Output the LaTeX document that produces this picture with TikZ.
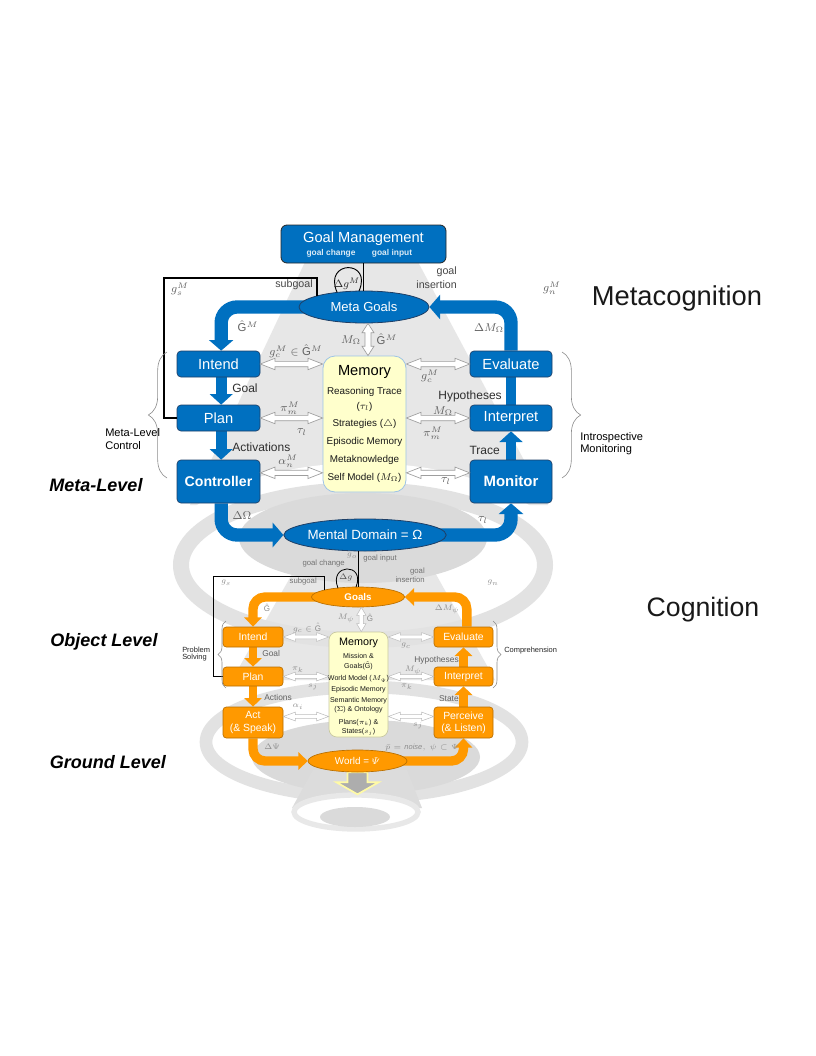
\RequirePackage{fix-cm}
\documentclass[tikz,border=0pt]{standalone}
\usepackage{fontspec}
\setmainfont{Liberation Sans}
\usetikzlibrary{arrows.meta,calc,decorations.pathreplacing,shapes.geometric}
\pgfdeclarelayer{bgzero}
\pgfdeclarelayer{bgone}
\pgfsetlayers{bgzero,bgone,main}
\definecolor{blueM}{HTML}{0070C0}
\definecolor{blueD}{HTML}{1F3F66}
\definecolor{orgM}{HTML}{FF9900}
\definecolor{orgD}{HTML}{B86E00}
\definecolor{memY}{HTML}{FFFFCC}
\definecolor{memB}{HTML}{9DC3E6}
\definecolor{memO}{HTML}{C8C8A0}
\definecolor{bgA}{HTML}{E7E7E7}
\definecolor{bgR}{HTML}{E2E2E2}
\definecolor{bgI}{HTML}{DADADA}
\newcommand{\fsz}[1]{\fontsize{#1}{#1}\selectfont}
\newcommand{\dblH}[6]{%
 \path[#1] let \p1=(#2), \p2=(#3) in
  (\x1,\y1) -- (\x1+#4,\y1+#5) -- (\x1+#4,\y1+#6) -- (\x2-#4,\y1+#6) -- (\x2-#4,\y1+#5) -- (\x2,\y1) -- (\x2-#4,\y1-#5) -- (\x2-#4,\y1-#6) -- (\x1+#4,\y1-#6) -- (\x1+#4,\y1-#5) -- cycle;}
\newcommand{\dblV}[6]{%
 \path[#1] let \p1=(#2), \p2=(#3) in
  (\x1,\y1) -- (\x1+#5,\y1-#4) -- (\x1+#6,\y1-#4) -- (\x1+#6,\y2+#4) -- (\x1+#5,\y2+#4) -- (\x1,\y2) -- (\x1-#5,\y2+#4) -- (\x1-#6,\y2+#4) -- (\x1-#6,\y1-#4) -- (\x1-#5,\y1-#4) -- cycle;}
\begin{document}
\begin{tikzpicture}[x=0.75pt,y=-0.75pt,
 mbox/.style={rectangle, rounded corners=3pt, fill=blueM, draw=blueD, line width=0.5pt, text=white, inner sep=0pt, font=\fsz{11}, minimum width=62.25pt, minimum height=19.5pt},
 mboxb/.style={mbox, minimum height=32.25pt, font=\bfseries\fsz{10.6}},
 obox/.style={rectangle, rounded corners=2.5pt, fill=orgM, draw=orgD, line width=0.5pt, text=white, inner sep=0pt, font=\fontsize{7.8}{9.2}\selectfont, align=center, minimum width=45pt, minimum height=15pt},
 mell/.style={ellipse, fill=blueM, draw=blueD, line width=0.6pt, text=white, inner sep=0pt},
 oell/.style={ellipse, fill=orgM, draw=orgD, line width=0.5pt, text=white, inner sep=0pt},
 bigB/.style={draw=blueM, line width=10pt, rounded corners=12pt, -{Triangle[width=18pt,length=8pt]}},
 smallB/.style={draw=blueM, line width=8pt, -{Triangle[width=17pt,length=8pt]}},
 bigO/.style={draw=orgM, line width=7pt, rounded corners=9pt, -{Triangle[width=13pt,length=7pt]}},
 smallO/.style={draw=orgM, line width=6.5pt, -{Triangle[width=13pt,length=6.5pt]}},
 dblM/.style={draw=black!38, fill=white, line width=0.5pt},
 dblO/.style={draw=black!26, fill=white, line width=0.4pt},
 brc/.style={draw=black!45, line width=0.45pt, decorate},
 lblM/.style={font=\fsz{8}, text=black!72, inner sep=0pt},
 albl/.style={font=\fsz{9}, text=black!82, inner sep=0pt},
 mathM/.style={font=\fsz{8.5}, text=black!62, inner sep=0pt},
 mathO/.style={font=\fsz{6}, text=black!45, inner sep=0pt},
 lblO/.style={font=\fsz{6.3}, text=black!62, inner sep=0pt},
 lblOs/.style={font=\fsz{5.8}, text=black!55, inner sep=0pt},
 side/.style={font=\fsz{8.3}, text=black, inner sep=0pt, anchor=west},
 sideO/.style={font=\fsz{5.6}, text=black!85, inner sep=0pt, anchor=west},
 lvl/.style={font=\bfseries\itshape\fsz{13.5}, text=black, inner sep=0pt},
 big/.style={font=\fsz{20.5}, text=black!90, inner sep=0pt},
 memt/.style={font=\fsz{7.4}, text=black!90, inner sep=0pt},
 memo/.style={font=\fsz{5.3}, text=black!90, inner sep=0pt}
]
\useasboundingbox (0,0) rectangle (816,1056);

% ---------------- meta level nodes
\node[rectangle, rounded corners=4.5pt, fill=blueM, draw=black!85, line width=0.6pt, minimum width=123.75pt, minimum height=28.5pt, inner sep=0pt] (gm) at (363.5,244) {};
\node[font=\fsz{11}, text=white, inner sep=0pt] (gmt) at (363.5,239) {Goal Management};
\node[font=\bfseries\fsz{6.3}, text=white!85!blueM, inner sep=0pt] (gmc) at (331,253) {goal change};
\node[font=\bfseries\fsz{6.3}, text=white!85!blueM, inner sep=0pt] (gmi) at (392,253) {goal input};

\node[mell, minimum width=97.5pt, minimum height=24pt, font=\fsz{9.8}] (metagoals) at (364,307) {Meta Goals};

\node[mbox] (intend) at (218.5,364) {Intend};
\node[mbox] (plan) at (218.5,418) {Plan};
\node[mboxb] (controller) at (218.5,481.5) {Controller};
\node[mbox, minimum width=61.5pt] (evaluate) at (511,364) {Evaluate};
\node[mbox, minimum width=61.5pt] (interpret) at (511,418) {Interpret};
\node[mboxb, minimum width=61.5pt, font=\bfseries\fsz{11.2}] (monitor) at (511,481.5) {Monitor};

\node[rectangle, rounded corners=9pt, fill=memY, draw=memB, line width=0.6pt, minimum width=62.25pt, minimum height=102pt, inner sep=0pt] (mem) at (364.5,424) {};
\node[font=\fsz{11}, inner sep=0pt] (memt0) at (364.5,372) {Memory};
\node[memt] (memt1) at (364.5,392) {Reasoning Trace};
\node[memt] (memt2) at (364.5,406.5) {($\tau_l$)};
\node[memt] (memt3) at (364.5,424) {Strategies ($\triangle$)};
\node[memt] (memt4) at (364.5,442) {Episodic Memory};
\node[memt] (memt5) at (364.5,460) {Metaknowledge};
\node[memt] (memt6) at (364.5,478) {Self Model ($M_\Omega$)};

\node[mell, minimum width=100.5pt, minimum height=24pt, font=\fsz{10}] (mental) at (365,535) {Mental Domain = Ω};

% ---------------- object level nodes
\node[oell, minimum width=69.75pt, minimum height=15pt, font=\bfseries\fsz{7.3}] (goals) at (358,597) {Goals};
\node[obox] (intendo) at (253,637) {Intend};
\node[obox, minimum height=14.25pt] (plano) at (253,676.5) {Plan};
\node[obox, minimum height=23.25pt] (acto) at (253,722.5) {Act\\(\& Speak)};
\node[obox, minimum width=44.25pt] (evaluateo) at (463.5,637) {Evaluate};
\node[obox, minimum width=44.25pt, minimum height=14.25pt] (interpreto) at (463.5,676.5) {Interpret};
\node[obox, minimum width=44.25pt, minimum height=23.25pt] (perceiveo) at (463.5,722.5) {Perceive\\(\& Listen)};

\node[rectangle, rounded corners=6pt, fill=memY, draw=memO, line width=0.5pt, minimum width=44.25pt, minimum height=78.75pt, inner sep=0pt] (memo) at (358.5,684.5) {};
\node[font=\fsz{8.1}, inner sep=0pt] (memo0) at (358.5,643) {Memory};
\node[memo] (memo1) at (358.5,656) {Mission \&};
\node[memo] (memo2) at (358.5,666) {Goals($\hat{\mathrm{G}}$)};
\node[memo] (memo3) at (358.5,679) {World Model ($M_\Psi$)};
\node[memo] (memo4) at (358.5,690) {Episodic Memory};
\node[memo] (memo5) at (358.5,701) {Semantic Memory};
\node[memo] (memo6) at (358.5,710) {($\Sigma$) \& Ontology};
\node[memo] (memo7) at (358.5,722.5) {Plans($\pi_k$) \&};
\node[memo] (memo8) at (358.5,732) {States($s_j$)};

\node[oell, minimum width=74.25pt, minimum height=16.5pt, font=\fsz{7.4}] (world) at (357.5,761) {World = $\mathnormal{\Psi}$};

% ---------------- background
\begin{pgfonlayer}{bgzero}
\fill[white] (0,0) rectangle (816,1056);
\fill[bgA] (305,262) -- (418,262) -- (548,505) -- (190,505) -- cycle;
\fill[white] (363,565) ellipse [x radius=153.75pt, y radius=76.5pt];
\fill[bgA] (300,560) -- (428,560) -- (495,680) -- (232,680) -- cycle;
\fill[white] (364,742) ellipse [x radius=118.5pt, y radius=41.25pt];
\draw[bgR, line width=12pt] (363,565) ellipse [x radius=136.5pt, y radius=56.25pt];
\draw[bgR, line width=9.5pt] (364,742) ellipse [x radius=118.5pt, y radius=41.25pt];
\fill[bgI] (363,538) ellipse [x radius=93pt, y radius=33.75pt];
\fill[bgI] (366,757) ellipse [x radius=85.5pt, y radius=27.75pt];
\fill[bgA!95!black] (313,770) -- (407,770) -- (422,808) -- (292,808) -- cycle;
\fill[white] (356,812) ellipse [x radius=46.5pt, y radius=12.75pt];
\draw[bgR!80!white, line width=4pt] (356,812) ellipse [x radius=46.5pt, y radius=12.75pt];
\fill[bgI] (355,817) ellipse [x radius=26.25pt, y radius=7.5pt];
\end{pgfonlayer}

% ---------------- thick arrows
\begin{pgfonlayer}{bgone}
\draw[bigB] (metagoals.center) -| ([xshift=2pt]intend.north);
\draw[bigB] (evaluate.north) |- (metagoals.east);
\draw[bigB] ([xshift=2pt]controller.south) |- (mental.west);
\draw[bigB] (mental.center) -| (monitor.south);
\draw[smallB] ([xshift=2pt]intend.south) -- ([xshift=2pt]plan.north);
\draw[smallB] ([xshift=2pt]plan.south) -- ([xshift=2pt]controller.north);
\draw[smallB] (monitor.north) -- (interpret.south);
\draw[smallB] (interpret.north) -- (evaluate.north);
\draw[bigO] (goals.center) -| (intendo.north);
\draw[bigO] ([xshift=2.5pt]evaluateo.north) |- (goals.east);
\draw[bigO] (acto.south) |- (world.west);
\draw[bigO] (world.center) -| (perceiveo.south);
\draw[smallO] (intendo.south) -- (plano.north);
\draw[smallO] (plano.south) -- (acto.north);
\draw[smallO] (perceiveo.north) -- (interpreto.south);
\draw[smallO] (interpreto.north) -- (evaluateo.south);
\draw[fill=black!32, draw=yellow!35!white, line width=1.3pt, line join=miter] ($(world.south)+(-10,0)$) -- ++(20,0) -- ++(0,10) -- ++(11,0) -- ++(-21,12) -- ++(-21,-12) -- ++(11,0) -- cycle;
\end{pgfonlayer}

% ---------------- thin lines, loops
\draw[black, line width=0.7pt] (gm.south) -- (gm.south|-metagoals.north);
\draw[black, line width=0.7pt] ($(metagoals.north)+(-27,1.5)$) .. controls +(-14,-32) and +(14,-32) .. ($(metagoals.north)+(-5,0.5)$);
\coordinate (sgm) at (317,296);
\draw[black, line width=0.8pt] (sgm) -- (317,278) -- (164,278) -- (164,418) -- (plan.west);

\draw[black, line width=0.6pt] (goals.north|-mental.south) -- (goals.north);
\draw[black, line width=0.6pt] ($(goals.north)+(-20,1.5)$) .. controls +(-10,-25) and +(10,-25) .. ($(goals.north)+(-2,0.5)$);
\coordinate (sgo) at (324,590);
\draw[black, line width=0.6pt] (sgo) -- (324,576) -- (213,576) -- (213,676.5) -- (plano.west);

% ---------------- double arrows (meta)
\coordinate (ca) at ([yshift=6.5pt]controller.east);
\coordinate (ma) at ([yshift=6.5pt]monitor.west);
\dblH{dblM}{intend.east}{mem.west|-intend.east}{11pt}{4.3pt}{2pt}
\dblH{dblM}{plan.east}{mem.west|-plan.east}{11pt}{4.3pt}{2pt}
\dblH{dblM}{ca}{mem.west|-ca}{11pt}{4.3pt}{2pt}
\dblH{dblM}{mem.east|-evaluate.west}{evaluate.west}{11pt}{4.3pt}{2pt}
\dblH{dblM}{mem.east|-interpret.west}{interpret.west}{11pt}{4.3pt}{2pt}
\dblH{dblM}{mem.east|-ma}{ma}{11pt}{4.3pt}{2pt}
\coordinate (va) at ([xshift=3pt]metagoals.south);
\dblV{dblM}{va}{va|-mem.north}{7pt}{4.5pt}{2.2pt}

% ---------------- double arrows (object)
\coordinate (cb) at ([yshift=4.5pt]acto.east);
\coordinate (mb) at ([yshift=4.5pt]perceiveo.west);
\dblH{dblO}{intendo.east}{memo.west|-intendo.east}{9pt}{3.3pt}{1.4pt}
\dblH{dblO}{plano.east}{memo.west|-plano.east}{9pt}{3.3pt}{1.4pt}
\dblH{dblO}{cb}{memo.west|-cb}{9pt}{3.3pt}{1.4pt}
\dblH{dblO}{memo.east|-evaluateo.west}{evaluateo.west}{9pt}{3.3pt}{1.4pt}
\dblH{dblO}{memo.east|-interpreto.west}{interpreto.west}{9pt}{3.3pt}{1.4pt}
\dblH{dblO}{memo.east|-mb}{mb}{9pt}{3.3pt}{1.4pt}
\coordinate (vb) at ([xshift=2.5pt]goals.south);
\dblV{dblO}{vb}{vb|-memo.north}{6pt}{3.5pt}{1.6pt}

% ---------------- braces
\draw[brc, decoration={brace, amplitude=14pt}] (167,478) -- (167,352);
\draw[brc, decoration={brace, amplitude=14pt}] (562,352) -- (562,478);
\draw[brc, decoration={brace, amplitude=6pt}] (226,688) -- (226,621);
\draw[brc, decoration={brace, amplitude=6pt}] (493,621) -- (493,688);

% ---------------- meta labels
\node[lblM, anchor=east] (lsub) at (313,285) {subgoal};
\node[lblM, anchor=east] (lgi1) at (457,272) {goal};
\node[lblM, anchor=east] (lgi2) at (457,285) {insertion};
\node[mathM] (lgs) at (180,289) {$g_s^M$};
\node[mathM] (lgn) at (552,288) {$g_n^M$};
\node[mathM, text=black!85, font=\fsz{8}] (ldg) at (347,284) {$\Delta g^M$};
\node[mathM] (lgh) at (248,326) {$\hat{\mathrm{G}}^M$};
\node[mathM] (ldm) at (489,328) {$\Delta M_\Omega$};
\node[mathM] (lmo) at (351,340) {$M_\Omega$};
\node[mathM] (lgh2) at (387,339) {$\hat{\mathrm{G}}^M$};
\node[mathM] (lgc) at (296,351) {$g_c^M \in \hat{\mathrm{G}}^M$};
\node[albl, anchor=west] (lgoal) at (232,388) {Goal};
\node[albl, anchor=west] (lact) at (232,447) {Activations};
\node[albl, anchor=east] (lhyp) at (502,396) {Hypotheses};
\node[albl, anchor=east] (ltr) at (500,450) {Trace};
\node[mathM] (lpi) at (290,408) {$\pi_m^M$};
\node[mathM] (ltau) at (302,432) {$\tau_l$};
\node[mathM] (lal) at (288,461) {$\alpha_n^M$};
\node[mathM] (lgc2) at (430,376) {$g_c^M$};
\node[mathM] (lmo2) at (443,411) {$M_\Omega$};
\node[mathM] (lpi2) at (433,433) {$\pi_m^M$};
\node[mathM] (ltau2) at (446,481) {$\tau_l$};
\node[mathM] (ldo) at (242,516) {$\Delta\Omega$};
\node[mathM] (ltau3) at (483,520) {$\tau_l$};
\node[side] (lmc1) at (105,433) {Meta-Level};
\node[side] (lmc2) at (105,446) {Control};
\node[side] (lim1) at (580,438) {Introspective};
\node[side] (lim2) at (580,450) {Monitoring};
\node[lvl] (lmeta) at (96,485) {Meta-Level};
\node[big] (lmcog) at (677,298) {Metacognition};

% ---------------- object labels
\node[mathO] (lgo) at (352,556) {$g_o$};
\node[lblOs, anchor=west] (lgin) at (363,558) {goal input};
\node[lblOs, anchor=east] (lgch) at (345,563) {goal change};
\node[mathO, text=black!70] (ldgo) at (346,578) {$\Delta g$};
\node[lblOs, anchor=east] (lgio1) at (425,571) {goal};
\node[lblOs, anchor=east] (lgio2) at (425,580) {insertion};
\node[mathO] (lgso) at (226,583) {$g_s$};
\node[lblOs, anchor=east] (lsubo) at (317,581) {subgoal};
\node[mathO] (lgno) at (493,583) {$g_n$};
\node[mathO] (lgho) at (267,608) {$\hat{\mathrm{G}}$};
\node[mathO] (ldmo) at (447,609) {$\Delta M_\psi$};
\node[mathO] (lmpo) at (346,618) {$M_\psi$};
\node[mathO] (lgho2) at (370,618) {$\hat{\mathrm{G}}$};
\node[mathO] (lgco) at (307,628) {$g_c \in \hat{\mathrm{G}}$};
\node[lblO, anchor=west] (lgoalo) at (262,653) {Goal};
\node[mathO] (lpko) at (298,670) {$\pi_k$};
\node[mathO] (lsjo) at (313,687) {$s_j$};
\node[lblO, anchor=west] (lacto) at (264,697) {Actions};
\node[mathO] (lalo) at (298,707) {$\alpha_i$};
\node[mathO] (lgco2) at (406,646) {$g_c$};
\node[lblO, anchor=east] (lhypo) at (459,660) {Hypotheses};
\node[mathO] (lmpo2) at (413,670) {$M_\psi$};
\node[mathO] (lpko2) at (407,687) {$\pi_k$};
\node[lblO, anchor=east] (lsto) at (459,699) {State};
\node[mathO] (lsjo2) at (418,726) {$s_j$};
\node[mathO] (ldpsi) at (272,747) {$\Delta\Psi$};
\node[mathO, font=\fsz{5.6}, anchor=east] (lnoise) at (459,748) {$\bar{p} = \mathit{noise},\ \psi \subset \Psi$};
\node[sideO] (lps1) at (182,650) {Problem};
\node[sideO] (lps2) at (182,658) {Solving};
\node[sideO] (lcomp) at (504,651) {Comprehension};
\node[lvl] (lobj) at (104,642) {Object Level};
\node[big, font=\fsz{20}] (lcog) at (703,610) {Cognition};
\node[lvl] (lgnd) at (108,762) {Ground Level};
\end{tikzpicture}
\end{document}
